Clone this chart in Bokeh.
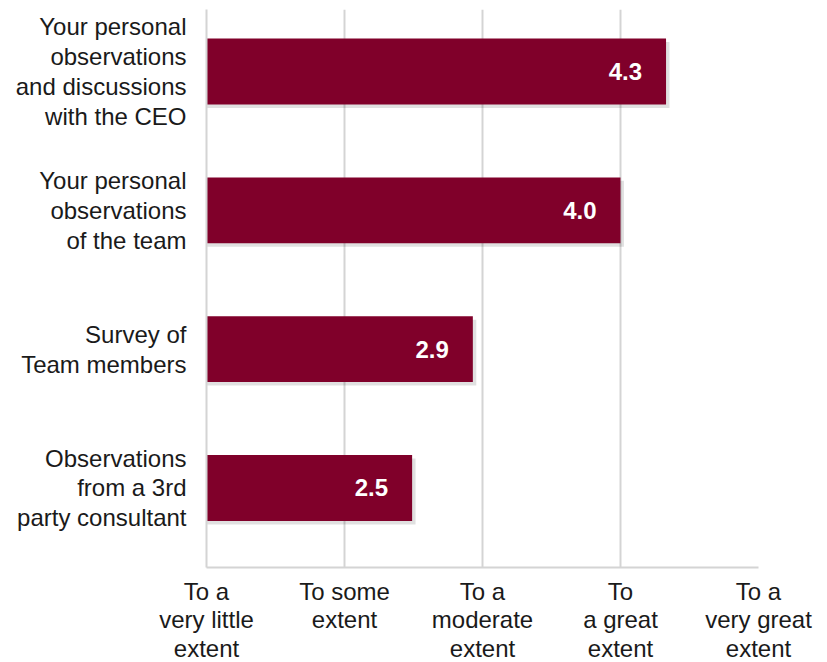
from bokeh.plotting import figure
from bokeh.models import Range1d, ColumnDataSource, FixedTicker
from bokeh.core.properties import value
from bokeh.embed import file_html
from bokeh.resources import INLINE

categories = [
    "Your personal\nobservations\nand discussions\nwith the CEO",
    "Your personal\nobservations\nof the team",
    "Survey of\nTeam members",
    "Observations\nfrom a 3rd\nparty consultant",
]
scores = [4.33, 4.0, 2.93, 2.49]
score_labels = ["4.3", "4.0", "2.9", "2.5"]
scale_ticks = [1, 2, 3, 4, 5]
scale_labels = [
    "To a\nvery little\nextent",
    "To some\nextent",
    "To a\nmoderate\nextent",
    "To\na great\nextent",
    "To a\nvery great\nextent",
]

positions = list(range(len(categories) - 1, -1, -1))
src = ColumnDataSource(dict(
    y=positions,
    v=scores,
    lab=score_labels,
    ys=[p - 0.025 for p in positions],
    vs=[s + 0.025 for s in scores],
))

p = figure(
    frame_width=552, frame_height=558,
    output_backend="svg", toolbar_location=None,
    x_range=Range1d(1, 5), y_range=Range1d(-0.573, 3.447),
    min_border_left=206, min_border_right=60, min_border_top=9,
    min_border_bottom=80,
)
p.outline_line_color = None
p.background_fill_color = "white"

# shadow
p.hbar(y="ys", left=1, right="vs", height=0.475, source=src,
       fill_color="#000000", fill_alpha=0.12, line_color=None)
p.hbar(y="y", left=1, right="v", height=0.475, source=src,
       fill_color="#80002A", line_color=None)

p.text(x="v", y="y", text="lab", source=src, x_offset=-24,
       text_align="right", text_baseline="middle",
       text_color="white", text_font=value("Liberation Sans"),
       text_font_style="bold", text_font_size="24px")

p.xaxis.ticker = FixedTicker(ticks=scale_ticks)
p.xaxis.major_label_overrides = {t: l for t, l in zip(scale_ticks, scale_labels)}
p.yaxis.ticker = FixedTicker(ticks=positions)
p.yaxis.major_label_overrides = {pos: c for pos, c in zip(positions, categories)}

for ax in (p.xaxis, p.yaxis):
    ax.major_tick_line_color = None
    ax.minor_tick_line_color = None
    ax.axis_line_color = "#d4d4d4"
    ax.axis_line_width = 2
    ax.major_label_text_font = "Liberation Sans"
    ax.major_label_text_font_size = "24px"
    ax.major_label_text_color = "#1a1a1a"
    ax.major_label_text_line_height = 1.1

p.xaxis.major_label_text_line_height = 1.06
p.xaxis.major_label_standoff = 4
p.yaxis.major_label_standoff = 14
p.yaxis.major_label_text_align = "right"

p.xgrid.grid_line_color = "#d4d4d4"
p.xgrid.grid_line_width = 2
p.xgrid.ticker = FixedTicker(ticks=scale_ticks)
p.ygrid.grid_line_color = None

open("out.html", "w").write(file_html(p, INLINE))
